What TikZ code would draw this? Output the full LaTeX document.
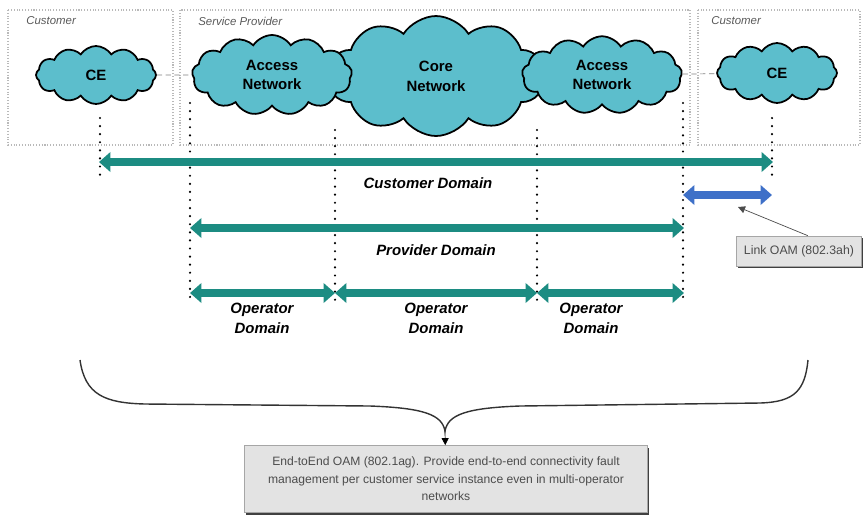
\documentclass[tikz,border=0pt]{standalone}
\usepackage{fontspec}
\setmainfont{Liberation Sans}
\usetikzlibrary{positioning,shapes.symbols,arrows.meta,shadows}
\definecolor{cloudcyan}{RGB}{92,190,204}
\definecolor{domteal}{RGB}{28,140,130}
\definecolor{linkblue}{RGB}{62,112,200}

\tikzset{
  zone/.style={draw=gray!55,densely dotted,line width=0.6pt},
  zonelabel/.style={anchor=west,inner sep=0pt,text=gray!70!black,font=\fontsize{6.5}{7}\selectfont\itshape},
  net/.style={cloud,cloud ignores aspect,cloud puff arc=115,draw=black,line width=1pt,fill=cloudcyan,align=center,inner sep=0pt,font=\fontsize{8.5}{11.3}\selectfont\bfseries},
  vline/.style={line width=1.4pt,dash pattern=on 0pt off 4.6pt,line cap=round},
  dom/.style={line width=4.6pt,{Triangle[width=11pt,length=6.5pt]}-{Triangle[width=11pt,length=6.5pt]}},
  domlabel/.style={inner sep=0pt,align=center,font=\fontsize{8.5}{11.3}\selectfont\bfseries\itshape},
  note/.style={draw=gray!70,fill=gray!22,text=black!70,align=center,drop shadow={shadow xshift=0.6pt,shadow yshift=-1.3pt,fill=black!75,opacity=1}}
}

\begin{document}
\begin{tikzpicture}[x=0.02cm,y=-0.02cm]
\useasboundingbox (0,0) rectangle (865,515);
\draw[zone] (8,10) rectangle (173,145);
\draw[zone] (180,10) rectangle (690,145);
\draw[zone] (698,10) rectangle (860,145);
\node[zonelabel] (zcust1) at (26,21) {Customer};
\node[zonelabel] (zprov) at (198,21) {Service Provider};
\node[zonelabel] (zcust2) at (711,21) {Customer};

% clouds
\node[net,minimum width=4.3cm,minimum height=2.4cm,cloud puffs=10] (core) at (436,76) {Core\\Network};
\node[net,minimum width=3.2cm,minimum height=1.6cm,cloud puffs=13] (acc1) at (272,75) {Access\\Network};
\node[net,minimum width=3.2cm,minimum height=1.55cm,cloud puffs=13] (acc2) at (602,75) {Access\\Network};
\node[net,minimum width=2.4cm,minimum height=1.16cm,cloud puffs=12] (ce1) at (96,75) {CE};
\node[net,minimum width=2.4cm,minimum height=1.2cm,cloud puffs=12] (ce2) at (777,73) {CE};
\draw[gray,densely dashed] (ce1) -- (acc1);
\draw[gray,densely dashed] (acc2) -- (ce2);

\foreach \n/\x/\a/\b in {1/100/118/178,2/190/103/300,3/335/130/300,4/537/130/300,5/683/103/300,6/772/118/178}
  \draw[vline] (\x,\a) coordinate (vt\n) -- (\x,\b) coordinate (vb\n);

% domains
\coordinate (cdl) at (99,162); \coordinate (cdr) at (773,162);
\coordinate (lkl) at (683,195); \coordinate (lkr) at (772,195);
\coordinate (pdl) at (190,228); \coordinate (pdr) at (684,228);
\coordinate (od0) at (190,293); \coordinate (od1) at (335,293);
\coordinate (od2) at (537,293); \coordinate (od3) at (684,293);
\draw[dom,domteal] (cdl) -- (cdr);
\draw[dom,linkblue] (lkl) -- (lkr);
\draw[dom,domteal] (pdl) -- (pdr);
\draw[dom,domteal] (od0) -- (od1);
\draw[dom,domteal] (od1) -- (od2);
\draw[dom,domteal] (od2) -- (od3);
\node[domlabel] (custdom) at (428,183) {Customer Domain};
\node[domlabel] (provdom) at (436,250) {Provider Domain};
\node[domlabel] (opdom1) at (262,318) {Operator\\Domain};
\node[domlabel] (opdom2) at (436,318) {Operator\\Domain};
\node[domlabel] (opdom3) at (591,318) {Operator\\Domain};

% notes
\node[note,minimum width=2.5cm,minimum height=0.6cm,font=\fontsize{7}{8}\selectfont] (linkoam) at (799,251) {Link OAM (802.3ah)};
\coordinate (lkpt) at (738,207);
\draw[black!70,-{Triangle[length=4pt,width=4pt]}] ([xshift=5pt]linkoam.north) -- (lkpt);

\coordinate (brl) at (80,360); \coordinate (brtip) at (445,431); \coordinate (brr) at (808,360);
\draw[black!80,line width=0.8pt] (brl) .. controls (85,395) and (105,403) .. (145,404) -- (370,406) .. controls (425,408) and (442,415) .. (brtip) .. controls (448,415) and (465,408) .. (520,406) -- (760,403) .. controls (795,402) and (805,390) .. (brr);
\node[note,minimum width=8.06cm,minimum height=1.34cm,font=\fontsize{6.9}{10}\selectfont] (e2e) at (446,479) {End-toEnd OAM (802.1ag). Provide end-to-end connectivity fault\\management per customer service instance even in multi-operator\\networks};
\draw[-{Triangle[length=4pt,width=4pt]}] (brtip) -- (e2e);
\end{tikzpicture}
\end{document}
